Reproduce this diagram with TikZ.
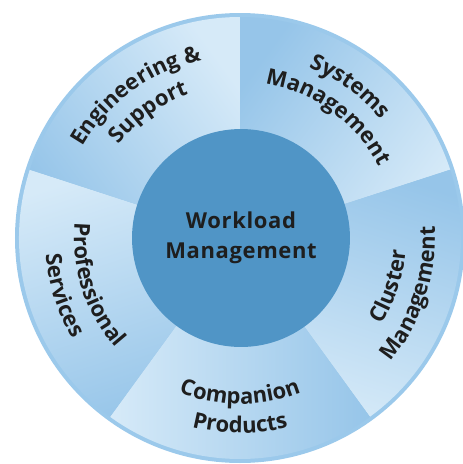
\documentclass[tikz,border=0pt]{standalone}
\usepackage{fontspec}
\setmainfont{Open Sans}
\newfontfamily\spacedfam{Open Sans}[LetterSpace=3]
\usepackage{tikz}
\usetikzlibrary{decorations.text}
\usepackage{xcolor}
\definecolor{rim}{RGB}{155,201,235}
\definecolor{segdark}{RGB}{150,197,233}
\definecolor{seglight}{RGB}{214,234,248}
\definecolor{hub}{RGB}{80,149,198}
\definecolor{ink}{RGB}{30,30,30}
\newcommand{\ringfont}{\color{ink}\fontsize{12.5}{14}\selectfont\bfseries}
\tikzset{ringtext/.style={decorate,decoration={text along path,text align=center,text={|\ringfont|#1}}}}

\begin{document}
\begin{tikzpicture}[x=.02cm,y=.02cm]
\useasboundingbox (-240,-226) rectangle (223,238);
\fill[rim] (0,0) circle(225);
\foreach \a in {90,18,-54,-126,-198}{
  \pgfmathsetmacro\t{\a-216}
  \shade[top color=seglight,bottom color=segdark,shading angle=\t] (0,0)--(\a:221) arc(\a:\a-72:221)--cycle;
}
\node[circle,fill=hub,minimum size=4.36cm,inner sep=0,text=ink,align=center,font=\spacedfam\fontsize{12.5}{17}\selectfont\bfseries] (wm) at (1,0) {Workload\\Management};
\path[ringtext={Engineering {\&}}] (162:182) arc(162:90:182);
\path[ringtext={Support}] (162:153) arc(162:90:153);
\path[ringtext={Systems}] (90:184) arc(90:18:184);
\path[ringtext={Management}] (90:156) arc(90:18:156);
\path[ringtext={Cluster}] (-54:166) arc(-54:18:166);
\path[ringtext={Management}] (-54:195) arc(-54:18:195);
\path[ringtext={Companion}] (-126:166) arc(-126:-54:166);
\path[ringtext={Products}] (-126:195) arc(-126:-54:195);
\path[ringtext={Professional}] (162:166) arc(162:234:166);
\path[ringtext={Services}] (162:195) arc(162:234:195);
\end{tikzpicture}
\end{document}
